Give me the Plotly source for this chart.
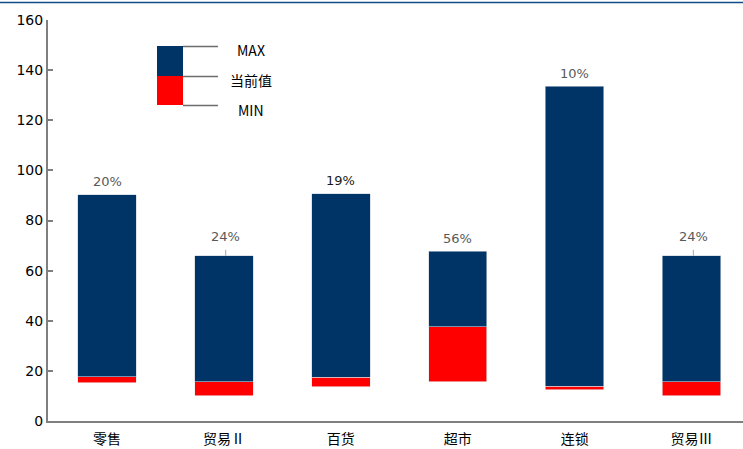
import plotly.graph_objects as go

# Category data: historical max, current value and historical min
categories = ["零售", "贸易Ⅱ", "百货", "超市", "连锁", "贸易Ⅲ"]
max_vals = [90.2, 65.9, 90.6, 67.7, 133.6, 65.9]
cur_vals = [17.7, 15.6, 17.4, 37.7, 13.9, 15.6]
min_vals = [15.2, 10.1, 13.7, 15.6, 12.4, 10.0]
y_ticks = [0, 20, 40, 60, 80, 100, 120, 140, 160]

NAVY = "#003366"
RED = "#FF0000"
AXIS = "#7F7F7F"
FONT = "DejaVu Sans, Noto Sans CJK SC, sans-serif"
CJK = "Noto Sans CJK SC, sans-serif"

W, H = 743, 449
ML, MR, MT, MB = 48, 0, 20, 28
PW, PH = W - ML - MR, H - MT - MB


def px(x):
    return (x - ML) / PW


def py(y):
    return (H - MB - y) / PH


fig = go.Figure()

# invisible base up to MIN
fig.add_trace(go.Bar(x=categories, y=min_vals,
                     marker=dict(color="rgba(0,0,0,0)", line=dict(width=0)),
                     hoverinfo="skip", showlegend=False))
# MIN -> current
fig.add_trace(go.Bar(x=categories, y=[c - m for c, m in zip(cur_vals, min_vals)],
                     marker=dict(color=RED, line=dict(color="#E8E8E8", width=0.6)),
                     showlegend=False))
# current -> MAX
fig.add_trace(go.Bar(x=categories, y=[M - c for M, c in zip(max_vals, cur_vals)],
                     marker=dict(color=NAVY, line=dict(color="#C8D0DA", width=0.6)),
                     showlegend=False))

# percentage labels (current / max)
annotations = []
shapes = []
for i, (cat, M, c) in enumerate(zip(categories, max_vals, cur_vals)):
    pct = round(c / M * 100)
    leader = cat in ("贸易Ⅱ", "贸易Ⅲ")
    dark = cat == "百货"
    annotations.append(dict(
        x=cat, y=M, xref="x", yref="y", text=f"{pct}%",
        showarrow=False, yshift=19 if leader else 13, yanchor="middle",
        xshift=2 if leader else 0,
        font=dict(family=FONT, size=13, color="#1A1A1A" if dark else "#595959"),
    ))
    if leader:
        shapes.append(dict(type="line", xref="x", yref="y", x0=i + 0.015, x1=i + 0.015,
                           y0=M, y1=M + 2.4, line=dict(color="#A6A6A6", width=1)))

# custom legend
shapes += [
    dict(type="rect", xref="paper", yref="paper", x0=px(157), x1=px(183), y0=py(76), y1=py(46),
         fillcolor=NAVY, line=dict(width=0)),
    dict(type="rect", xref="paper", yref="paper", x0=px(157), x1=px(183), y0=py(105), y1=py(76),
         fillcolor=RED, line=dict(width=0)),
]
for yy in (46.5, 76.5, 105.5):
    shapes.append(dict(type="line", xref="paper", yref="paper", x0=px(183), x1=px(218),
                       y0=py(yy), y1=py(yy), line=dict(color="#6E6E6E", width=1.5)))
for txt, xx, yy in (("MAX", 251.5, 50), ("当前值", 250.5, 80), ("MIN", 251, 110)):
    annotations.append(dict(text=txt, xref="paper", yref="paper", x=px(xx), y=py(yy),
                            showarrow=False, xanchor="center", yanchor="middle",
                            font=dict(family=CJK, size=14, color="#000000")))

# thin rule across the top
shapes.append(dict(type="line", xref="paper", yref="paper", x0=px(0), x1=px(W),
                   y0=py(2.5), y1=py(2.5), line=dict(color="#0F4C87", width=1.5)))

fig.update_layout(
    width=W, height=H,
    margin=dict(l=ML, r=MR, t=MT, b=MB, pad=0),
    barmode="stack", bargap=0.5,
    plot_bgcolor="white", paper_bgcolor="white",
    font=dict(family=FONT, size=13, color="#000000"),
    annotations=annotations, shapes=shapes,
    xaxis=dict(range=[-0.505, 5.44], showgrid=False, showline=True, linecolor=AXIS,
               linewidth=2, ticks="", tickfont=dict(family=CJK, size=14, color="#000000"),
               ticklabelstandoff=4, fixedrange=True),
    yaxis=dict(range=[0, 160], tickvals=y_ticks, showgrid=False, zeroline=False,
               showline=True, linecolor=AXIS, linewidth=2, ticks="inside", ticklen=5,
               tickcolor=AXIS, tickwidth=1.5, tickfont=dict(size=14, color="#000000"),
               fixedrange=True),
)

fig.write_html("out.html")
